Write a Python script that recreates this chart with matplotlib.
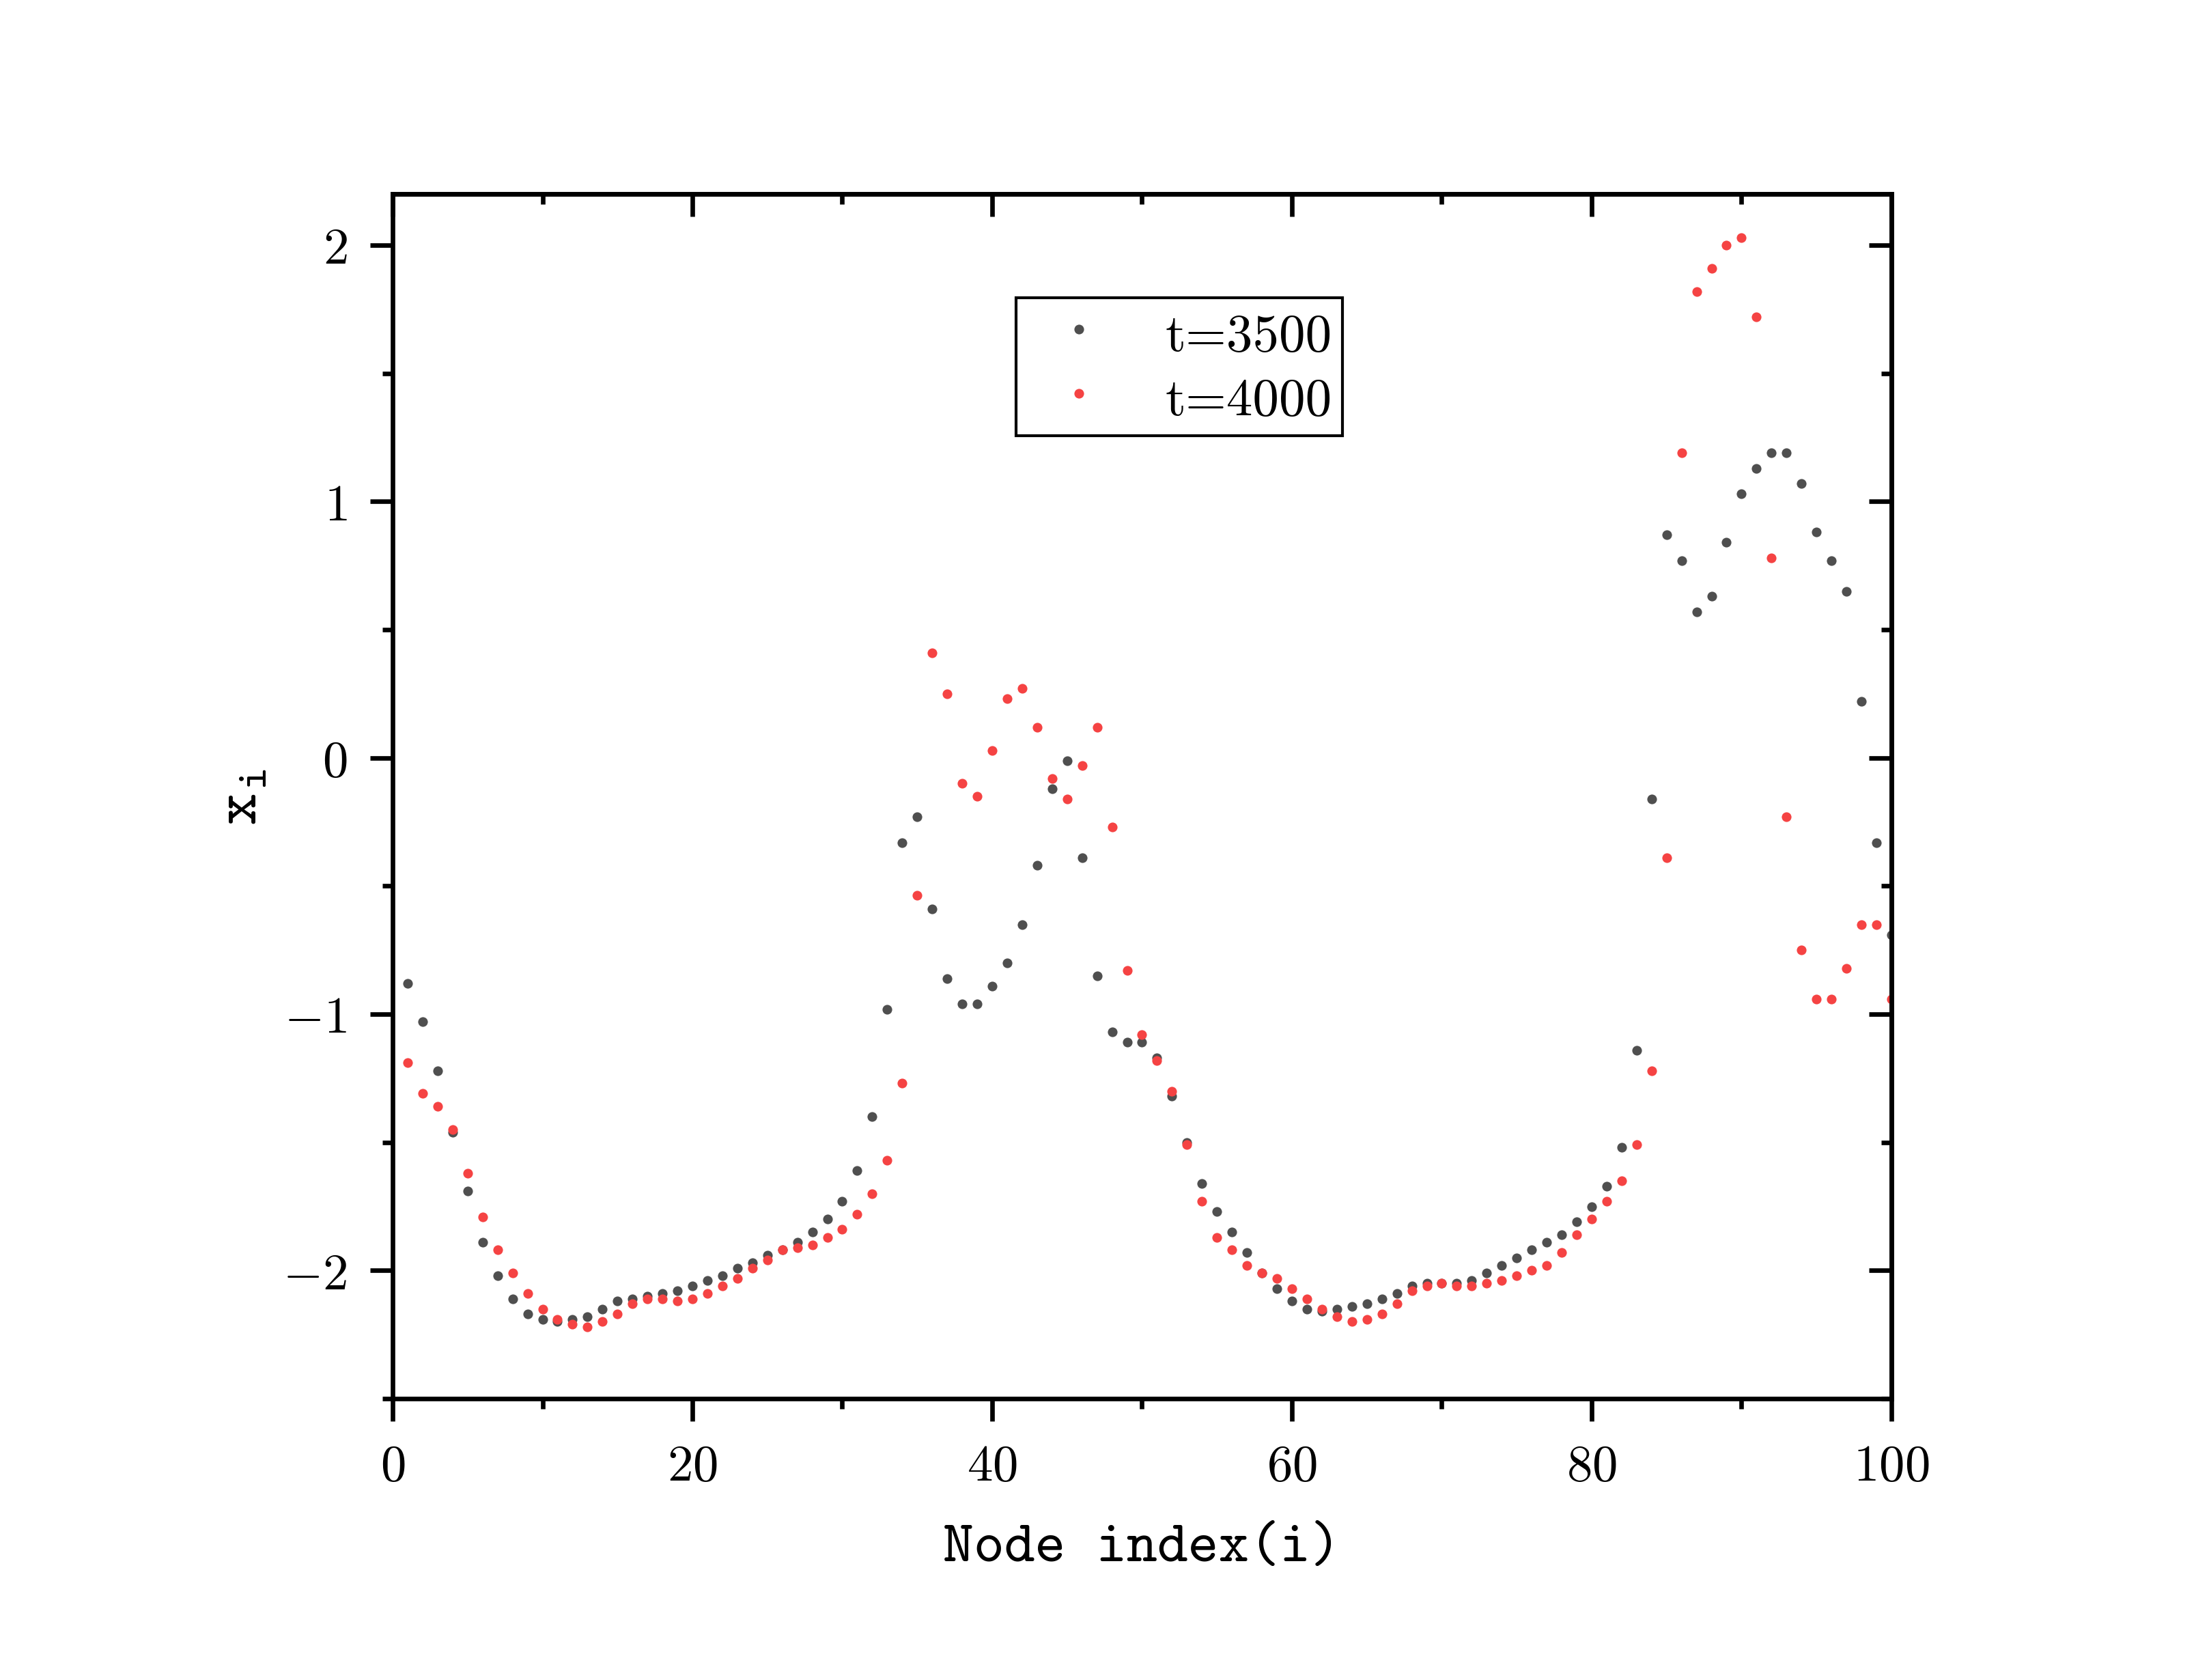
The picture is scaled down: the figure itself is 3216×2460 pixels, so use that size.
import matplotlib
matplotlib.use("Agg")
import matplotlib.pyplot as plt
from matplotlib.ticker import MultipleLocator

plt.rcParams['font.family'] = ['cmr10', 'DejaVu Serif']
plt.rcParams['mathtext.fontset'] = 'cm'
plt.rcParams['axes.formatter.use_mathtext'] = True
plt.rcParams['axes.unicode_minus'] = True

node_index = list(range(1, 101))

x_t3500 = [
    -0.88, -1.03, -1.22, -1.46, -1.69, -1.89, -2.02, -2.11, -2.17, -2.19,
    -2.20, -2.19, -2.18, -2.15, -2.12, -2.11, -2.10, -2.09, -2.08, -2.06,
    -2.04, -2.02, -1.99, -1.97, -1.94, -1.92, -1.89, -1.85, -1.80, -1.73,
    -1.61, -1.40, -0.98, -0.33, -0.23, -0.59, -0.86, -0.96, -0.96, -0.89,
    -0.80, -0.65, -0.42, -0.12, -0.01, -0.39, -0.85, -1.07, -1.11, -1.11,
    -1.17, -1.32, -1.50, -1.66, -1.77, -1.85, -1.93, -2.01, -2.07, -2.12,
    -2.15, -2.16, -2.15, -2.14, -2.13, -2.11, -2.09, -2.06, -2.05, -2.05,
    -2.05, -2.04, -2.01, -1.98, -1.95, -1.92, -1.89, -1.86, -1.81, -1.75,
    -1.67, -1.52, -1.14, -0.16, 0.87, 0.77, 0.57, 0.63, 0.84, 1.03,
    1.13, 1.19, 1.19, 1.07, 0.88, 0.77, 0.65, 0.22, -0.33, -0.69,
]

x_t4000 = [
    -1.19, -1.31, -1.36, -1.45, -1.62, -1.79, -1.92, -2.01, -2.09, -2.15,
    -2.19, -2.21, -2.22, -2.20, -2.17, -2.13, -2.11, -2.11, -2.12, -2.11,
    -2.09, -2.06, -2.03, -1.99, -1.96, -1.92, -1.91, -1.90, -1.87, -1.84,
    -1.78, -1.70, -1.57, -1.27, -0.535, 0.41, 0.25, -0.10, -0.15, 0.03,
    0.23, 0.27, 0.12, -0.08, -0.16, -0.03, 0.12, -0.27, -0.83, -1.08,
    -1.18, -1.30, -1.51, -1.73, -1.87, -1.92, -1.98, -2.01, -2.03, -2.07,
    -2.11, -2.15, -2.18, -2.20, -2.19, -2.17, -2.13, -2.08, -2.06, -2.05,
    -2.06, -2.06, -2.05, -2.04, -2.02, -2.00, -1.98, -1.93, -1.86, -1.80,
    -1.73, -1.65, -1.51, -1.22, -0.39, 1.19, 1.82, 1.91, 2.00, 2.03,
    1.72, 0.78, -0.23, -0.75, -0.94, -0.94, -0.82, -0.65, -0.65, -0.94,
]

series_labels = ['t=3500', 't=4000']
series_colors = ['#4f4f4f', '#f54343']

fig = plt.figure(figsize=(10.72, 8.203), dpi=300)
ax = fig.add_axes([0.1788, 0.1674, 0.8613 - 0.1788, 0.8842 - 0.1674])

ax.plot(node_index, x_t3500, 'o', ms=3.4, color=series_colors[0], mec='none', label=series_labels[0])
ax.plot(node_index, x_t4000, 'o', ms=3.4, color=series_colors[1], mec='none', label=series_labels[1])

ax.set_xlim(0, 100)
ax.set_ylim(-2.5, 2.2)
ax.xaxis.set_major_locator(MultipleLocator(20))
ax.xaxis.set_minor_locator(MultipleLocator(10))
ax.yaxis.set_major_locator(MultipleLocator(1))
ax.yaxis.set_minor_locator(MultipleLocator(0.5))

lw = 1.6
for s in ax.spines.values():
    s.set_linewidth(lw)

ax.tick_params(axis='both', which='major', direction='out', length=8, width=lw,
               labelsize=18, pad=8)
ax.tick_params(axis='both', which='minor', direction='out', length=3.5, width=lw)

# mirrored inward ticks on top and right
secx = ax.secondary_xaxis('top')
secx.xaxis.set_major_locator(MultipleLocator(20))
secx.xaxis.set_minor_locator(MultipleLocator(10))
secx.tick_params(which='major', direction='in', length=8, width=lw, labeltop=False)
secx.tick_params(which='minor', direction='in', length=3.5, width=lw)
secx.spines['top'].set_linewidth(lw)
secy = ax.secondary_yaxis('right')
secy.yaxis.set_major_locator(MultipleLocator(1))
secy.yaxis.set_minor_locator(MultipleLocator(0.5))
secy.tick_params(which='major', direction='in', length=8, width=lw, labelright=False)
secy.tick_params(which='minor', direction='in', length=3.5, width=lw)
secy.spines['right'].set_linewidth(lw)

ax.set_xlabel('Node index(i)', fontfamily='cmtt10', fontsize=20.5, labelpad=12)
ax.set_ylabel(r'$\mathtt{x}_{\mathtt{i}}$', fontsize=22, labelpad=5)

leg = ax.legend(loc='upper left', bbox_to_anchor=(0.4159, 0.914), fontsize=18.5,
                frameon=True, fancybox=False, edgecolor='black', framealpha=1,
                handlelength=2.0, handletextpad=0.63, borderpad=0.2,
                handleheight=1.05, labelspacing=0.22, markerscale=1.0,
                borderaxespad=0)
leg.get_frame().set_linewidth(1.0)

fig.savefig('out.png', dpi=300)
